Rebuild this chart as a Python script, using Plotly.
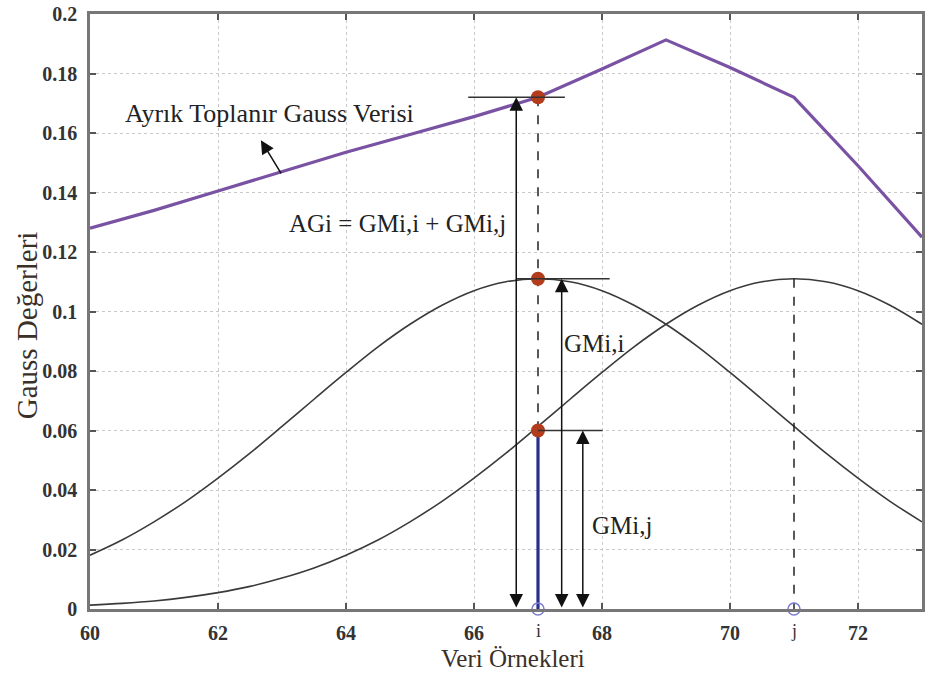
import plotly.graph_objects as go

# ---- data ----
x_samples = [60, 60.5, 61, 61.5, 62, 62.5, 63, 63.5, 64, 64.5, 65, 65.5, 66, 66.5, 67,
             67.5, 68, 68.5, 69, 69.5, 70, 70.5, 71, 71.5, 72, 72.5, 73]
gauss_i = [0.0181, 0.0232, 0.0293, 0.0362, 0.0440, 0.0524, 0.0614, 0.0705, 0.0795, 0.0881,
           0.0957, 0.1021, 0.1070, 0.1100, 0.1110, 0.1100, 0.1070, 0.1021, 0.0957, 0.0881,
           0.0795, 0.0705, 0.0614, 0.0524, 0.0440, 0.0362, 0.0293]
gauss_j = [0.0013, 0.0019, 0.0027, 0.0039, 0.0055, 0.0076, 0.0104, 0.0138, 0.0181, 0.0232,
           0.0293, 0.0362, 0.0440, 0.0524, 0.0614, 0.0705, 0.0795, 0.0881, 0.0957, 0.1021,
           0.1070, 0.1100, 0.1110, 0.1100, 0.1070, 0.1021, 0.0957]
sum_x = [60, 61, 62, 63, 64, 65, 66, 67, 68, 69, 70, 71, 72, 73]
sum_y = [0.128, 0.134, 0.1405, 0.147, 0.1535, 0.1595, 0.1655, 0.172, 0.1815, 0.1913,
         0.182, 0.172, 0.149, 0.125]
i_pos = 67
j_pos = 71
ag_i = 0.172      # AGi
gm_ii = 0.111     # GMi,i
gm_ij = 0.060     # GMi,j
gm_jj = 0.111
x_ticks = [60, 62, 64, 66, 68, 70, 72]
y_ticks = [0, 0.02, 0.04, 0.06, 0.08, 0.1, 0.12, 0.14, 0.16, 0.18, 0.2]
y_tick_text = ["0", "0.02", "0.04", "0.06", "0.08", "0.1", "0.12", "0.14", "0.16", "0.18", "0.2"]

SERIF = "Liberation Serif"
DARK = "#333333"

fig = go.Figure()
fig.add_trace(go.Scatter(x=x_samples, y=gauss_i, mode="lines", line=dict(color="#3a3a3a", width=1.6, shape="spline"), hoverinfo="skip"))
fig.add_trace(go.Scatter(x=x_samples, y=gauss_j, mode="lines", line=dict(color="#3a3a3a", width=1.6, shape="spline"), hoverinfo="skip"))
fig.add_trace(go.Scatter(x=sum_x, y=sum_y, mode="lines", line=dict(color="#7a52a3", width=3.2), hoverinfo="skip"))

# dashed guides and the blue bar
fig.add_trace(go.Scatter(x=[i_pos, i_pos], y=[ag_i, gm_ij], mode="lines", line=dict(color="#222", width=1.5, dash="dash"), hoverinfo="skip"))
fig.add_trace(go.Scatter(x=[j_pos, j_pos], y=[gm_jj, 0], mode="lines", line=dict(color="#222", width=1.5, dash="dash"), hoverinfo="skip"))
fig.add_trace(go.Scatter(x=[i_pos, i_pos], y=[gm_ij, 0], mode="lines", line=dict(color="#2b2f8c", width=3.2), hoverinfo="skip"))

# horizontal reference lines
for y0, xa, xb in [(ag_i, 65.91, 67.42), (gm_ii, 66.66, 68.12), (gm_ij, 67.0, 68.01)]:
    fig.add_shape(type="line", x0=xa, x1=xb, y0=y0, y1=y0, xref="x", yref="y",
                  line=dict(color="#333", width=1.5))

# markers
fig.add_trace(go.Scatter(x=[i_pos, i_pos, i_pos], y=[ag_i, gm_ii, gm_ij], mode="markers",
                         marker=dict(color="#b23c1c", size=14, line=dict(width=0)), hoverinfo="skip"))
fig.add_trace(go.Scatter(x=[i_pos, j_pos], y=[0, 0], mode="markers", cliponaxis=False,
                         marker=dict(color="rgba(0,0,0,0)", size=12, line=dict(color="#7b7bd0", width=1.5)), hoverinfo="skip"))

# double arrows
for xa, top in [(66.66, ag_i), (67.37, gm_ii), (67.70, gm_ij)]:
    fig.add_annotation(x=xa, y=top, ax=xa, ay=0, xref="x", yref="y", axref="x", ayref="y",
                       text="", showarrow=True, arrowhead=2, arrowside="end+start",
                       arrowsize=1.8, arrowwidth=1.5, arrowcolor="#111")

# label arrow
fig.add_annotation(x=62.67, y=0.1576, ax=63.0, ay=0.1459, xref="x", yref="y", axref="x", ayref="y",
                   text="", showarrow=True, arrowhead=2, arrowsize=1.8, arrowwidth=1.5, arrowcolor="#111")

# text labels
labels = [("Ayrık Toplanır Gauss Verisi", 62.8, 0.1667, 26),
          ("AGi = GMi,i + GMi,j", 64.8, 0.1297, 25),
          ("GMi,i", 67.88, 0.0894, 25),
          ("GMi,j", 68.32, 0.0282, 25)]
for t, xx, yy, fs in labels:
    fig.add_annotation(x=xx, y=yy, xref="x", yref="y", text=t, showarrow=False,
                       xanchor="center", yanchor="middle",
                       font=dict(family=SERIF, size=fs, color="#222222"))

# i / j tick labels
for t, xx in [("i", i_pos), ("j", j_pos)]:
    fig.add_annotation(x=xx, y=0, xref="x", yref="y", yshift=-22, text=t, showarrow=False,
                       xanchor="center", yanchor="middle",
                       font=dict(family=SERIF, size=18, color=DARK))

# axis titles
fig.add_annotation(x=(515 - 90) / 835, y=-(658 - 609) / 595, xref="paper", yref="paper",
                   text="Veri Örnekleri", showarrow=False, xanchor="center", yanchor="middle",
                   font=dict(family=SERIF, size=25, color="#3a3028"))
fig.add_annotation(x=-(90 - 27) / 835, y=(609 - 325) / 595, xref="paper", yref="paper",
                   text="Gauss Değerleri", textangle=-90, showarrow=False,
                   xanchor="center", yanchor="middle",
                   font=dict(family=SERIF, size=29, color="#3a3028"))

axis_common = dict(showline=True, linecolor="#777", linewidth=2.5, mirror="ticks",
                   ticks="inside", ticklen=6, tickcolor="#555", tickwidth=1.5,
                   showgrid=True, gridcolor="#c9c9c9", griddash="dot", gridwidth=1,
                   zeroline=False,
                   tickfont=dict(family=SERIF, size=20, color=DARK, weight="bold"))

fig.update_layout(
    width=925, height=673,
    margin=dict(l=90, r=0, t=14, b=64),
    paper_bgcolor="white", plot_bgcolor="white",
    showlegend=False,
    xaxis=dict(range=[60, 73], tickvals=x_ticks, ticklabelstandoff=4, **axis_common),
    yaxis=dict(range=[0, 0.2], tickvals=y_ticks, ticktext=y_tick_text, ticklabelstandoff=6, **axis_common),
)

fig.write_html("out.html")
